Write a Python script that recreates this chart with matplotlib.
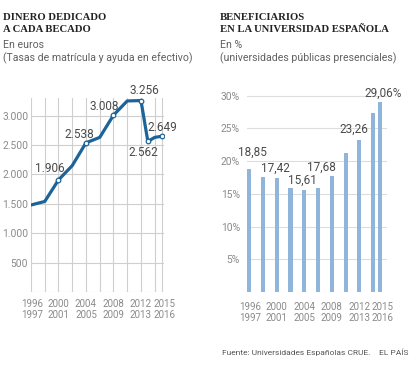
import matplotlib
matplotlib.use('Agg')
import matplotlib.pyplot as plt

# data
years_line = [1996, 1998, 2000, 2002, 2004, 2006, 2008, 2010, 2012, 2013, 2014, 2015]
euros = [1480, 1540, 1906, 2150, 2538, 2630, 3008, 3250, 3256, 2562, 2630, 2649]

years_bar = [1996, 1998, 2000, 2002, 2004, 2006, 2008, 2010, 2012, 2014, 2015]
pct = [18.85, 17.6, 17.42, 15.9, 15.61, 15.9, 17.68, 21.2, 23.26, 27.4, 29.06]

tick_years = [1996.2, 2000, 2004, 2008, 2012, 2015.35]
tick_labels = ['1996\n1997', '2000\n2001', '2004\n2005', '2008\n2009', '2012\n2013', '2015\n2016']

# labelled points: (x, value, text, offset px)
line_labels = [
    (2000, 1906, '1.906', (-9, 11)),
    (2004, 2538, '2.538', (-7, 8)),
    (2008, 3008, '3.008', (-9, 9)),
    (2012, 3256, '3.256', (3, 10)),
    (2013, 2562, '2.562', (-5, -11)),
    (2015, 2649, '2.649', (1, 9)),
]
bar_labels = [
    (1996, 18.85, '18,85', (3, 16)),
    (2000, 17.42, '17,42', (-1, 10)),
    (2004, 15.61, '15,61', (-2, 10)),
    (2008, 17.68, '17,68', (-10, 9)),
    (2012, 23.26, '23,26', (-6, 11)),
    (2015, 29.06, '29,06%', (3, 8.5)),
]

LINE_C = '#1b6399'
BAR_C = '#8fb6da'
GRID_C = '#cfcfcf'
TICK_C = '#8a8a8a'
VAL_C = '#4a4a4a'
FONT = 'Roboto'

plt.rcParams['font.family'] = FONT

fig = plt.figure(figsize=(4.14, 3.72), dpi=100)

def header(x, l1, l2, s1, s2):
    fig.text(x, 1 - 19.5/372, l1, family='Liberation Serif', weight='bold',
             fontsize=7.7, color='#222222', va='baseline')
    fig.text(x, 1 - 32.5/372, l2, family='Liberation Serif', weight='bold',
             fontsize=7.7, color='#222222', va='baseline')
    fig.text(x, 1 - 48/372, s1, fontsize=7.6, color='#606060', va='baseline')
    fig.text(x, 1 - 61.5/372, s2, fontsize=7.6, color='#606060', va='baseline')

header(3/414, 'DINERO DEDICADO', 'A CADA BECADO', 'En euros',
       '(Tasas de matrícula y ayuda en efectivo)')
header(220/414, 'BENEFICIARIOS', 'EN LA UNIVERSIDAD ESPAÑOLA', 'En %',
       '(universidades públicas presenciales)')

# ---- left: line chart
ax1 = fig.add_axes([31/414, 80/372, 133/414, 194/372])
ax1.set_xlim(1996, 2015)
ax1.set_ylim(0, 3300)
grid_x = [1996, 1998, 2000, 2002, 2004, 2006, 2008, 2010, 2012, 2014, 2015]
for gx in grid_x:
    ax1.axvline(gx, color=GRID_C, lw=0.8, zorder=0)
for gy in range(0, 3001, 500):
    ax1.axhline(gy, color=GRID_C, lw=0.8, zorder=0)
ax1.plot(years_line, euros, color=LINE_C, lw=2.3, solid_joinstyle='round',
         solid_capstyle='round', zorder=2)
mx = [p[0] for p in line_labels]
my = [p[1] for p in line_labels]
ax1.plot(mx, my, 'o', ms=3.3, mfc='white', mec=LINE_C, mew=0.9, zorder=3)
for x, v, t, off in line_labels:
    ax1.annotate(t, (x, v), xytext=off, textcoords='offset pixels', ha='center',
                 va='center', fontsize=8.5, color=VAL_C, zorder=4)
ax1.set_yticks(range(500, 3001, 500))
ax1.set_yticklabels(['500', '1.000', '1.500', '2.000', '2.500', '3.000'])
ax1.set_xticks(tick_years)
ax1.set_xticklabels(tick_labels, linespacing=1.1)
ax1.tick_params(length=0, labelsize=7.4, colors=TICK_C)
ax1.tick_params(axis='x', labelsize=7.0, pad=5)
ax1.tick_params(axis='y', pad=2)
for s in ax1.spines.values():
    s.set_visible(False)

# ---- right: bar chart
ax2 = fig.add_axes([247/414, 80/372, 140/414, 199.6/372])
ax2.set_xlim(1995.7, 2016.0)
ax2.set_ylim(0, 30.5)
for gy in range(0, 31, 5):
    ax2.axhline(gy, color='#dddddd', lw=0.8, zorder=0)
ax2.bar(years_bar, pct, width=0.6, color=BAR_C, zorder=2)
for x, v, t, off in bar_labels:
    ax2.annotate(t, (x, v), xytext=off, textcoords='offset pixels', ha='center',
                 va='center', fontsize=8.5, color=VAL_C, zorder=4)
ax2.set_yticks(range(5, 31, 5))
ax2.set_yticklabels(['5%', '10%', '15%', '20%', '25%', '30%'])
ax2.set_xticks(tick_years)
ax2.set_xticklabels(tick_labels, linespacing=1.1)
ax2.tick_params(length=0, labelsize=7.4, colors=TICK_C)
ax2.tick_params(axis='x', labelsize=7.0, pad=7)
ax2.tick_params(axis='y', pad=5)
for s in ax2.spines.values():
    s.set_visible(False)

fig.text(222/414, 1 - 355/372, 'Fuente: Universidades Españolas CRUE.', fontsize=6.0,
         color='#555555', va='baseline')
fig.text(409/414, 1 - 355/372, 'EL PAÍS', fontsize=6.0,
         color='#555555', va='baseline', ha='right')

fig.savefig('out.png', dpi=100)
